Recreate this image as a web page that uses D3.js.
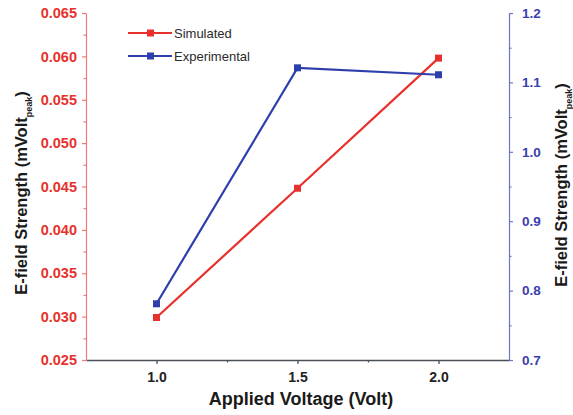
<!DOCTYPE html>
<html>
<head>
<meta charset="utf-8">
<script src="https://cdn.jsdelivr.net/npm/d3@7"></script>
<style>
  body { margin: 0; background: #fff; }
  text { font-family: Arial, "Liberation Sans", sans-serif; }
</style>
</head>
<body>
<div id="chart"></div>
<script>
// values
const voltage = [1.0, 1.5, 2.0]
const simulated = [0.0299, 0.0448, 0.0598]
const experimental = [0.781, 1.121, 1.111]
const xTicks = [1.0, 1.5, 2.0]
const leftTicks = [0.025, 0.030, 0.035, 0.040, 0.045, 0.050, 0.055, 0.060, 0.065]
const rightTicks = [0.7, 0.8, 0.9, 1.0, 1.1, 1.2]

const width = 573, height = 415
const mLeft = 86, mRight = 509, mTop = 13, mBottom = 360

const red = "#e8302c", blue = "#2e3fab"

const svg = d3.select("#chart").append("svg")
    .attr("width", width)
    .attr("height", height)

const x = d3.scaleLinear().domain([0.75, 2.25]).range([mLeft, mRight])
const yL = d3.scaleLinear().domain([0.025, 0.065]).range([mBottom, mTop])
const yR = d3.scaleLinear().domain([0.7, 1.2]).range([mBottom, mTop])

function minorOf(ticks) {
    let out = []
    for (let i = 0; i < ticks.length - 1; i++) out.push((ticks[i] + ticks[i + 1]) / 2)
    return out
}

// bottom axis
const gx = svg.append("g").attr("transform", `translate(0,${mBottom})`)
gx.call(d3.axisBottom(x).tickValues(xTicks).tickSize(4).tickSizeOuter(0).tickFormat(d3.format(".1f")))
gx.append("g").call(d3.axisBottom(x).tickValues([1.25, 1.75]).tickSize(2.5).tickFormat(""))
    .select(".domain").remove()
gx.selectAll("path, line").attr("stroke", "#4a4f55").attr("stroke-width", 1.3)
gx.selectAll("text").attr("fill", "#222").attr("font-size", 14).attr("font-weight", "bold").attr("dy", "1.05em")

// left axis
const gl = svg.append("g").attr("transform", `translate(${mLeft},0)`)
gl.call(d3.axisLeft(yL).tickValues(leftTicks).tickSize(4).tickSizeOuter(0).tickFormat(d3.format(".3f")))
gl.append("g").call(d3.axisLeft(yL).tickValues(minorOf(leftTicks)).tickSize(2.5).tickFormat(""))
    .select(".domain").remove()
gl.selectAll("path, line").attr("stroke", "#f07a7a").attr("stroke-width", 1.2)
gl.selectAll("text").attr("fill", red).attr("font-size", 14.5).attr("font-weight", "bold").attr("x", -9)

// right axis
const gr = svg.append("g").attr("transform", `translate(${mRight},0)`)
gr.call(d3.axisRight(yR).tickValues(rightTicks).tickSize(4).tickSizeOuter(0).tickFormat(d3.format(".1f")))
gr.append("g").call(d3.axisRight(yR).tickValues(minorOf(rightTicks)).tickSize(2.5).tickFormat(""))
    .select(".domain").remove()
gr.selectAll("path, line").attr("stroke", "#6f72c6").attr("stroke-width", 1.2)
gr.selectAll("text").attr("fill", "#3a40ad").attr("font-size", 13.5).attr("font-weight", "bold").attr("x", 13)

// titles
svg.append("text")
    .attr("x", 301).attr("y", 405)
    .attr("text-anchor", "middle")
    .attr("font-size", 18).attr("font-weight", "bold").attr("fill", "#1a1a1a")
    .text("Applied Voltage (Volt)")

function yTitle(cx, cy) {
    const t = svg.append("text")
        .attr("transform", `translate(${cx},${cy}) rotate(-90)`)
        .attr("text-anchor", "middle")
        .attr("font-size", 16.5).attr("font-weight", "bold").attr("fill", "#1a1a1a")
    t.append("tspan").text("E-field Strength (mVolt")
    t.append("tspan").attr("font-size", 9).attr("dy", 4.5).text("peak")
    t.append("tspan").attr("dy", -4.5).text(")")
}
yTitle(27, 193)
yTitle(567, 185)

// series
const line = (yScale) => d3.line().x((d, i) => x(voltage[i])).y(d => yScale(d))

function drawSeries(values, yScale, color) {
    svg.append("path")
        .datum(values)
        .attr("d", line(yScale))
        .attr("fill", "none")
        .attr("stroke", color)
        .attr("stroke-width", 2.2)
    svg.selectAll(null)
        .data(values)
        .enter()
        .append("rect")
        .attr("x", (d, i) => x(voltage[i]) - 3.5)
        .attr("y", d => yScale(d) - 3.5)
        .attr("width", 7)
        .attr("height", 7)
        .attr("fill", color)
}
drawSeries(simulated, yL, red)
drawSeries(experimental, yR, blue)

// legend
const legend = [["Simulated", red, 33], ["Experimental", blue, 56]]
legend.forEach(([name, color, ly]) => {
    svg.append("line")
        .attr("x1", 128).attr("x2", 172).attr("y1", ly).attr("y2", ly)
        .attr("stroke", color).attr("stroke-width", 2.2)
    svg.append("rect")
        .attr("x", 147).attr("y", ly - 3.5).attr("width", 7).attr("height", 7)
        .attr("fill", color)
    svg.append("text")
        .attr("x", 174).attr("y", ly + 4.5)
        .attr("font-size", 13).attr("fill", "#2a2a2a")
        .text(name)
})
</script>
</body>
</html>
